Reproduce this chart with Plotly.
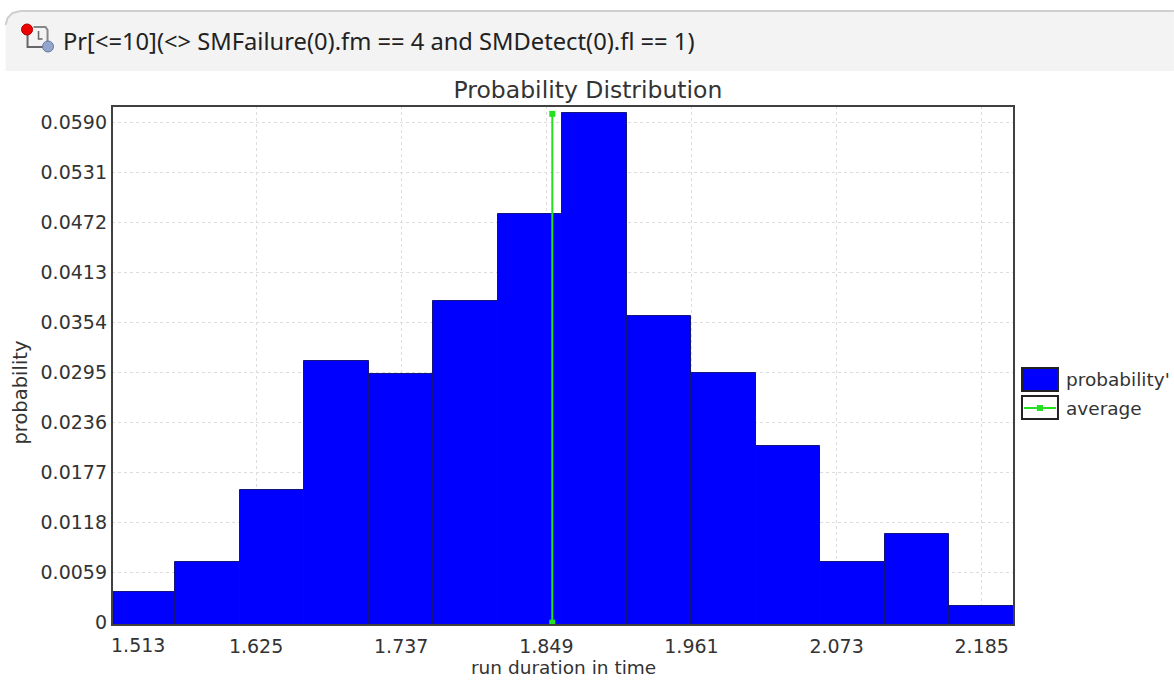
import plotly.graph_objects as go

# ---- data ----
bin_edges = [1.513, 1.5628, 1.6125, 1.6622, 1.712, 1.7617, 1.8115, 1.8612, 1.911, 1.9607, 2.0105, 2.0602, 2.11, 2.1597, 2.2099]
probabilities = [0.0036, 0.0072, 0.0156, 0.0309, 0.0293, 0.0379, 0.0482, 0.0601, 0.0362, 0.0294, 0.0208, 0.0072, 0.0105, 0.0020]
average_x = 1.8536
average_y = [0, 0.0600]
y_ticks = [0, 0.0059, 0.0118, 0.0177, 0.0236, 0.0295, 0.0354, 0.0413, 0.0472, 0.0531, 0.0590]
y_tick_labels = ["0", "0.0059", "0.0118", "0.0177", "0.0236", "0.0295", "0.0354", "0.0413", "0.0472", "0.0531", "0.0590"]
x_ticks = [1.625, 1.737, 1.849, 1.961, 2.073, 2.185]
x_tick_labels = ["1.625", "1.737", "1.849", "1.961", "2.073", "2.185"]
x_range = [1.5138, 2.2099]
first_x_label = "1.513"
query_text = "Pr[<=10](<> SMFailure(0).fm == 4 and SMDetect(0).fl == 1)"
chart_title = "Probability Distribution"
x_title = "run duration in time"
y_title = "probability"
series_names = ["probability'", "average"]

W, H = 1174, 680
L, R, T, B = 111.5, 1014, 106, 625
FONT = "DejaVu Sans"
INK = "#333333"
GREEN = "#22e022"

scale_y = 8481.0
y_zero_px = 622.7
y_min = (y_zero_px - B) / scale_y
y_max = (y_zero_px - T) / scale_y

centers = [(a + b) / 2 for a, b in zip(bin_edges[:-1], bin_edges[1:])]
widths = [b - a for a, b in zip(bin_edges[:-1], bin_edges[1:])]
heights = [p - y_min for p in probabilities]

fig = go.Figure()
fig.add_bar(x=centers, y=heights, base=y_min, width=widths, name=series_names[0], showlegend=False,
            marker=dict(color="#0000ff", line=dict(color="#14147a", width=1)))
fig.add_scatter(x=[average_x, average_x], y=average_y, mode="lines+markers", name=series_names[1], showlegend=False,
                line=dict(color=GREEN, width=2),
                marker=dict(symbol="square", size=6, color=GREEN))

def px(x): return (x - L) / (R - L)
def py(y): return (B - y) / (B - T)

def box(x0, y0, x1, y1, **kw):
    fig.add_shape(type="rect", xref="paper", yref="paper", layer=kw.pop("layer", "below"),
                  x0=px(x0), x1=px(x1), y0=py(y0), y1=py(y1), **kw)

def disc(x0, y0, x1, y1, **kw):
    fig.add_shape(type="circle", xref="paper", yref="paper", layer="above",
                  x0=px(x0), x1=px(x1), y0=py(y1), y1=py(y0), **kw)

def pline(points, **kw):
    d = "M " + " L ".join(f"{px(a):.5f},{py(b):.5f}" for a, b in points)
    fig.add_shape(type="path", xref="paper", yref="paper", layer="above", path=d, **kw)

def text(x, y, s, size=19, anchor="left", color=INK, family=FONT, angle=0):
    fig.add_annotation(xref="paper", yref="paper", x=px(x), y=py(y), text=s, showarrow=False,
                       xanchor=anchor, yanchor="middle", textangle=angle,
                       font=dict(family=family, size=size, color=color))

# toolbar strip with rounded top-left corner
strip = [(5, 71), (5, 25), (7, 18), (12, 13), (20, 11), (W, 11), (W, 71), (5, 71)]
d = "M " + " L ".join(f"{px(a):.5f},{py(b):.5f}" for a, b in strip) + " Z"
fig.add_shape(type="path", xref="paper", yref="paper", layer="below", path=d, fillcolor="#f3f3f3",
              line=dict(width=0))
pline([(5, 25), (7, 18), (12, 13), (20, 11), (W, 11)], line=dict(color="#cfcfcf", width=2))

# toolbar icon
pline([(27, 32), (27, 47), (43, 47)], line=dict(color="#666666", width=2))
pline([(33, 27), (45, 27), (47, 30), (47, 42)], line=dict(color="#888888", width=2))
pline([(38, 31), (38, 39), (42, 39)], line=dict(color="#666666", width=1.5))
disc(21, 24, 32, 35, fillcolor="#ee0000", line=dict(color="#aa0000", width=1))
disc(42, 41, 53, 52, fillcolor="#93a5cc", line=dict(color="#6a7aa0", width=1))
text(60, 41, query_text, size=23.7, family="Noto Sans", color="#222222")

# plot frame
box(L, T, R, B, fillcolor="rgba(0,0,0,0)", line=dict(color="#404040", width=2), layer="above")

# first x label sits just inside the axis start
text(138, 645, first_x_label, anchor="center")
# axis titles
text(563, 667, x_title, anchor="center", size=18.5)
text(20, 393, y_title, anchor="center", angle=-90, size=19.5)

# legend
box(1022, 368, 1058, 391, fillcolor="#0000ff", line=dict(color="#222222", width=2))
box(1022, 396, 1058, 419, fillcolor="#ffffff", line=dict(color="#222222", width=2))
fig.add_shape(type="line", xref="paper", yref="paper", x0=px(1024), x1=px(1056), y0=py(408), y1=py(408),
              line=dict(color=GREEN, width=2))
box(1037, 405, 1043, 411, fillcolor=GREEN, line=dict(width=0), layer="above")
text(1064, 380, series_names[0], size=18.5)
text(1064, 408, series_names[1], size=18.5)

fig.update_layout(
    width=W, height=H, autosize=False,
    margin=dict(l=L, r=W - R, t=T, b=H - B, pad=0),
    paper_bgcolor="white", plot_bgcolor="white",
    bargap=0,
    title=dict(text=chart_title, x=588 / W, xanchor="center", y=1 - 90 / H, yanchor="middle",
               font=dict(family=FONT, size=23.5, color=INK)),
    font=dict(family=FONT, size=19, color=INK),
    xaxis=dict(range=x_range, tickmode="array", tickvals=x_ticks, ticktext=x_tick_labels,
               showgrid=True, gridcolor="#dddddd", griddash="3px,3px", gridwidth=1, zeroline=False,
               ticks="", ticklabelstandoff=8, showline=False, automargin=False),
    yaxis=dict(range=[y_min, y_max], tickmode="array",
               tickvals=y_ticks, ticktext=y_tick_labels,
               showgrid=True, gridcolor="#dddddd", griddash="3px,3px", gridwidth=1, zeroline=False,
               ticks="", ticklabelstandoff=4, showline=False, automargin=False),
)

fig.write_html("out.html", config={"displayModeBar": False},
               post_script="document.body.style.margin='0';document.body.style.overflow='hidden';")
